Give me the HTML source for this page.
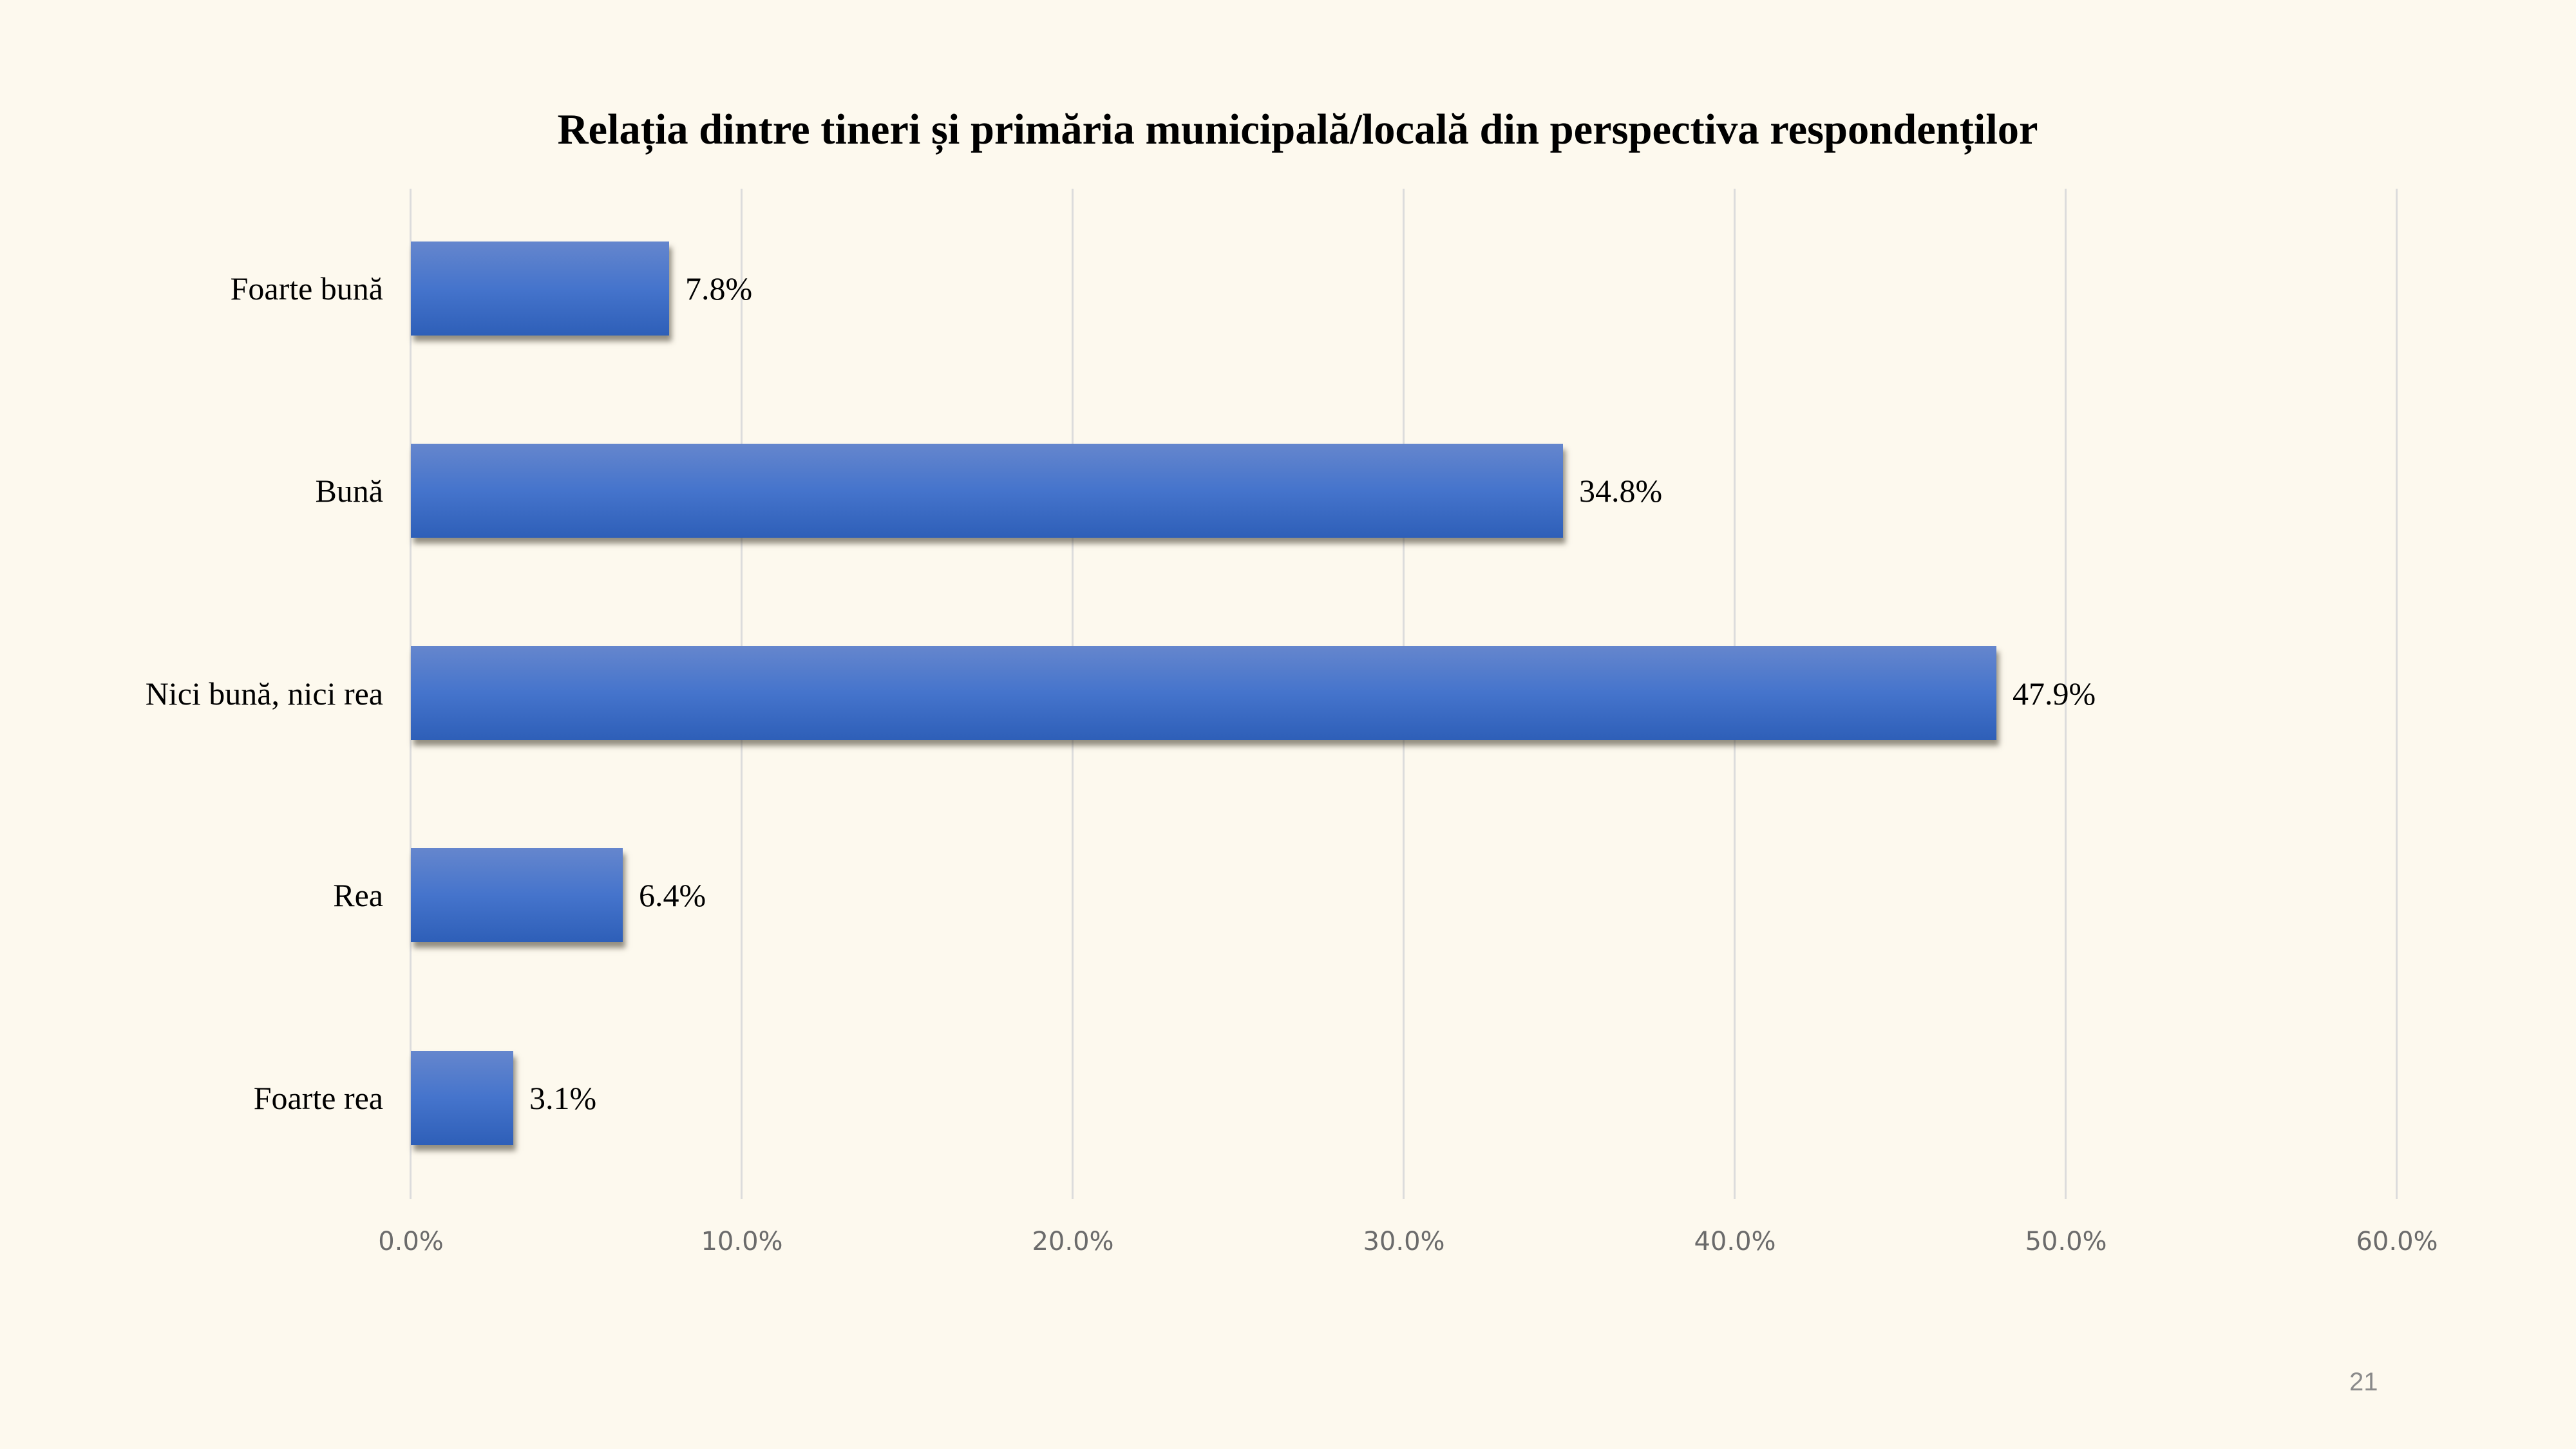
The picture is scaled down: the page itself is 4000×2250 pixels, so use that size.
<!DOCTYPE html>
<html><head><meta charset="utf-8"><style>
html,body{margin:0;padding:0}
body{width:4000px;height:2250px;background:#fdf9ee;position:relative;overflow:hidden;font-family:"Liberation Serif",serif}
.title{position:absolute;left:0;width:4030px;top:164px;text-align:center;font-weight:bold;font-size:66.5px;color:#000}
.grid{position:absolute;top:293px;height:1569px;width:3px;background:#dcdcdc}
.bar{position:absolute;left:638px;height:146px;background:linear-gradient(#6586cd,#4574cc 50%,#2e5fb8);box-shadow:4px 9px 8px rgba(60,55,40,0.55)}
.cat{position:absolute;right:3405px;font-size:50px;color:#000;white-space:nowrap;transform:translateY(-50%)}
.val{position:absolute;font-size:50px;color:#000;white-space:nowrap;transform:translateY(-50%)}
.tick{position:absolute;top:1905px;font-family:"DejaVu Sans","Liberation Sans",sans-serif;font-size:40px;color:#6b6b6b;transform:translateX(-50%)}
.pg{position:absolute;left:3648px;top:2124px;font-family:"Liberation Sans",sans-serif;font-size:40px;color:#8a8a8a}
</style></head><body>
<div class="title">Relația dintre tineri și primăria municipală/locală din perspectiva respondenților</div>
<div class="grid" style="left:636px"></div>
<div class="grid" style="left:1150px"></div>
<div class="grid" style="left:1664px"></div>
<div class="grid" style="left:2178px"></div>
<div class="grid" style="left:2692px"></div>
<div class="grid" style="left:3206px"></div>
<div class="grid" style="left:3720px"></div>

<div class="bar" style="top:375px;width:401px"></div>
<div class="bar" style="top:689px;width:1789px"></div>
<div class="bar" style="top:1003px;width:2462px"></div>
<div class="bar" style="top:1317px;width:329px"></div>
<div class="bar" style="top:1632px;width:159px"></div>

<div class="cat" style="top:448px">Foarte bună</div>
<div class="cat" style="top:762px">Bună</div>
<div class="cat" style="top:1077px">Nici bună, nici rea</div>
<div class="cat" style="top:1390px">Rea</div>
<div class="cat" style="top:1705px">Foarte rea</div>

<div class="val" style="top:448px;left:1064px">7.8%</div>
<div class="val" style="top:762px;left:2452px">34.8%</div>
<div class="val" style="top:1077px;left:3125px">47.9%</div>
<div class="val" style="top:1390px;left:992px">6.4%</div>
<div class="val" style="top:1705px;left:822px">3.1%</div>

<div class="tick" style="left:638px">0.0%</div>
<div class="tick" style="left:1152px">10.0%</div>
<div class="tick" style="left:1666px">20.0%</div>
<div class="tick" style="left:2180px">30.0%</div>
<div class="tick" style="left:2694px">40.0%</div>
<div class="tick" style="left:3208px">50.0%</div>
<div class="tick" style="left:3722px">60.0%</div>
<div class="pg">21</div>
</body></html>
